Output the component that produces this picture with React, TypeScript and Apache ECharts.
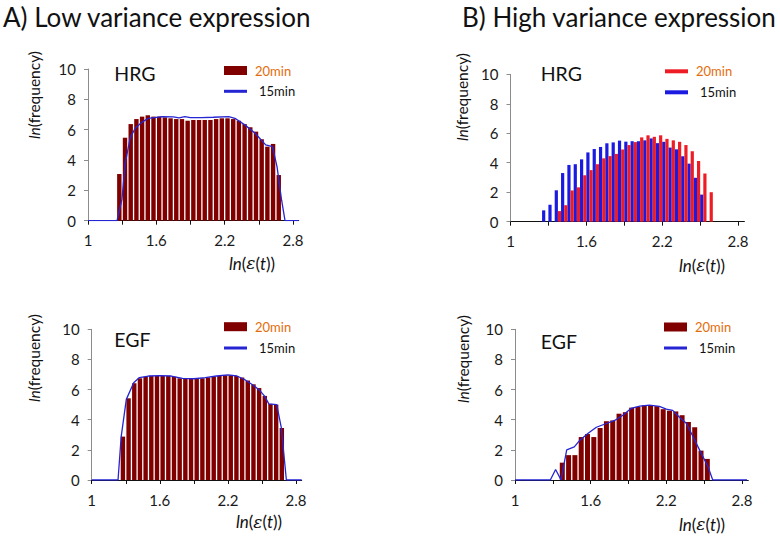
import React, { useEffect, useRef } from "react";
import * as echarts from "echarts";

const FONT = "Lato, 'Noto Sans', sans-serif";

// histogram bin centres on the ln(ε(t)) axis
const binCentres = [
  1.275, 1.325, 1.375, 1.425, 1.475, 1.525, 1.575, 1.625, 1.675, 1.725,
  1.775, 1.825, 1.875, 1.925, 1.975, 2.025, 2.075, 2.125, 2.175, 2.225,
  2.275, 2.325, 2.375, 2.425, 2.475, 2.525, 2.575, 2.625, 2.675,
];

// A) Low variance, HRG
const hrgLow20 = [
  3.08, 5.47, 6.37, 6.7, 6.86, 6.95, 6.86, 6.86, 6.81, 6.75,
  6.7, 6.7, 6.59, 6.64, 6.64, 6.64, 6.64, 6.7, 6.75, 6.75,
  6.7, 6.59, 6.37, 6.16, 5.87, 5.37, 4.88, 5.06, 3.01,
];
const hrgLow15X = [1.0, 1.255, 1.298, 1.327, 1.37, 1.415, 1.475, 1.53, 1.65, 1.75, 1.8, 1.85, 1.9, 2.0, 2.1, 2.235, 2.29, 2.38, 2.47, 2.56, 2.62, 2.66, 2.7, 2.73, 2.85];
const hrgLow15Y = [0, 0, 1.4, 3.8, 5.45, 6.1, 6.5, 6.75, 6.86, 6.85, 6.78, 6.86, 6.8, 6.8, 6.82, 6.86, 6.75, 6.3, 5.75, 5.0, 4.88, 3.55, 1.35, 0, 0];

// A) Low variance, EGF
const egfLow20 = [
  2.88, 5.42, 6.42, 6.75, 6.85, 6.9, 6.9, 6.9, 6.9, 6.85,
  6.75, 6.7, 6.7, 6.7, 6.75, 6.8, 6.85, 6.9, 6.95, 6.95,
  6.9, 6.8, 6.6, 6.35, 6.1, 5.58, 5.05, 5.0, 3.45,
];
const egfLow15X = [1.0, 1.232, 1.26, 1.305, 1.37, 1.42, 1.5, 1.6, 1.7, 1.8, 1.9, 2.0, 2.1, 2.2, 2.28, 2.35, 2.42, 2.48, 2.525, 2.56, 2.63, 2.67, 2.715, 2.85];
const egfLow15Y = [0, 0, 2.9, 5.35, 6.45, 6.8, 6.9, 6.92, 6.9, 6.75, 6.72, 6.8, 6.9, 6.97, 6.9, 6.65, 6.3, 5.95, 5.55, 5.05, 5.0, 3.5, 0, 0];

// B) High variance, HRG (15min: bins 1.275–2.525, 20min: bins 1.375–2.575)
const hrgHigh15 = [
  0.77, 1.15, 2.13, 3.3, 3.85, 3.9, 4.23, 4.7, 4.93, 5.07,
  5.32, 5.38, 5.5, 5.43, 5.46, 5.46, 5.52, 5.65, 5.33, 5.42,
  5.03, 4.91, 4.44, 3.94, 2.98, 1.84,
];
const hrgHigh20 = [
  0.72, 1.12, 2.12, 2.33, 3.15, 3.5, 3.9, 4.3, 4.45, 4.6,
  4.9, 5.2, 5.4, 5.72, 5.86, 5.76, 5.86, 5.62, 5.52, 5.42,
  5.2, 4.78, 4.12, 3.27, 2.0,
];

// B) High variance, EGF (20min: bins 1.375–2.525)
const egfHigh20 = [
  1.15, 1.65, 1.65, 2.85, 3.05, 2.85, 3.45, 3.9, 3.95, 4.4,
  4.5, 4.8, 4.85, 4.95, 4.95, 4.9, 4.7, 4.6, 4.55, 4.3,
  3.85, 3.5, 1.95, 1.4,
];
const egfHigh15X = [1.0, 1.28, 1.322, 1.365, 1.41, 1.47, 1.51, 1.58, 1.645, 1.725, 1.79, 1.855, 1.92, 1.99, 2.065, 2.145, 2.2, 2.25, 2.3, 2.36, 2.41, 2.475, 2.53, 2.568, 2.84];
const egfHigh15Y = [0, 0, 0.7, 0, 2.0, 2.2, 2.6, 3.1, 3.5, 3.75, 3.95, 4.3, 4.75, 4.9, 4.97, 4.88, 4.7, 4.62, 4.2, 3.75, 2.9, 1.8, 0.9, 0, 0];

const xTickValues = [1, 1.3, 1.6, 1.9, 2.2, 2.5, 2.8];
const xLabelValues = [1, 1.6, 2.2, 2.8];
const seriesNames = ["20min", "15min"];

const DARK_RED = "#800000";
const RED = "#ee1c24";
const BLUE = "#1a1ae0";
const LINE_BLUE = "#2525d4";
const ORANGE = "#e46c0a";

const pair = (xs: number[], ys: number[]) => xs.map((x, i) => [x, ys[i]]);

const grids = [
  { left: 88, top: 69, width: 210.7, height: 151.7 },
  { left: 510.5, top: 74.3, width: 233.9, height: 147.4 },
  { left: 91.7, top: 329.3, width: 210, height: 150.7 },
  { left: 515, top: 329.3, width: 233.3, height: 150.7 },
];

function xAxis(i: number) {
  return {
    gridIndex: i,
    type: "value",
    min: 1,
    max: 2.85,
    axisLine: { show: true, onZero: false, lineStyle: { color: "#111", width: 1 } },
    axisTick: { show: true, length: 4, customValues: xTickValues, lineStyle: { color: "#111" } },
    axisLabel: { customValues: xLabelValues, fontSize: 15, fontFamily: FONT, color: "#1a1a1a", margin: 12 },
    splitLine: { show: false },
  };
}

function yAxis(i: number) {
  return {
    gridIndex: i,
    type: "value",
    min: 0,
    max: 10,
    interval: 2,
    axisLine: { show: true, lineStyle: { color: "#8c8c8c", width: 1 } },
    axisTick: { show: true, length: 4, lineStyle: { color: "#8c8c8c" } },
    axisLabel: { fontSize: 15, fontFamily: FONT, color: "#1a1a1a", margin: 12 },
    splitLine: { show: false },
  };
}

function legend(name: string, left: number, cy: number, color: string, iconH: number, textColor: string, padLeft: number) {
  return {
    left,
    top: cy - 7.5,
    padding: 0,
    orient: "horizontal",
    itemWidth: 23,
    itemHeight: iconH,
    icon: "rect",
    selectedMode: false,
    textStyle: { fontSize: 13, fontFamily: FONT, color: textColor, padding: [0, 0, 0, padLeft] },
    data: [{ name, icon: "rect", itemStyle: { color, borderWidth: 0 }, textStyle: { color: textColor } }],
  };
}

function text(x: number, y: number, t: string, size: number, align = "left") {
  return {
    type: "text",
    x,
    y,
    silent: true,
    style: { text: t, fontSize: size, fontFamily: FONT, fill: "#111", align, verticalAlign: "middle" },
  };
}

function yName(x: number, y: number) {
  return {
    type: "text",
    x,
    y,
    rotation: Math.PI / 2,
    silent: true,
    style: {
      text: "{i|ln}{n|(frequency)}",
      align: "center",
      verticalAlign: "middle",
      fontSize: 15.5,
      fontFamily: FONT,
      fill: "#111",
      rich: {
        i: { fontSize: 15.5, fontFamily: FONT, fontStyle: "italic", fill: "#111" },
        n: { fontSize: 15.5, fontFamily: FONT, fill: "#111" },
      },
    },
  };
}

function xName(x: number, y: number) {
  return {
    type: "text",
    x,
    y,
    silent: true,
    style: {
      text: "{i|ln}{n|(}{e|ε}{n|(}{i|t}{n|))}",
      align: "center",
      verticalAlign: "middle",
      fontSize: 17,
      fontFamily: FONT,
      fill: "#111",
      rich: {
        i: { fontSize: 17, fontFamily: FONT, fontStyle: "italic", fill: "#111" },
        e: { fontSize: 17, fontFamily: "'DejaVu Serif', serif", fontStyle: "italic", fill: "#111" },
        n: { fontSize: 17, fontFamily: FONT, fill: "#111" },
      },
    },
  };
}

const lineSeries = (grid: number, xs: number[], ys: number[]) => ({
  type: "line",
  name: seriesNames[1],
  xAxisIndex: grid,
  yAxisIndex: grid,
  data: pair(xs, ys),
  symbol: "none",
  smooth: false,
  z: 4,
  lineStyle: { color: LINE_BLUE, width: 1.3 },
  itemStyle: { color: LINE_BLUE },
});

const option = {
  animation: false,
  backgroundColor: "#ffffff",
  grid: grids,
  xAxis: [0, 1, 2, 3].map(xAxis),
  yAxis: [0, 1, 2, 3].map(yAxis),
  legend: [
    legend(seriesNames[0], 224, 71.5, DARK_RED, 9, ORANGE, 3),
    legend(seriesNames[1], 224, 92.3, LINE_BLUE, 3, "#111", 7),
    legend(seriesNames[0], 665, 72.3, RED, 4, ORANGE, 3),
    legend(seriesNames[1], 665, 93.3, BLUE, 4, "#111", 7),
    legend(seriesNames[0], 224, 327.7, DARK_RED, 9, ORANGE, 3),
    legend(seriesNames[1], 224, 349, LINE_BLUE, 3, "#111", 7),
    legend(seriesNames[0], 664, 328, DARK_RED, 9, ORANGE, 3),
    legend(seriesNames[1], 664, 349, LINE_BLUE, 3, "#111", 7),
  ],
  series: [
    {
      type: "bar",
      name: seriesNames[0],
      xAxisIndex: 0,
      yAxisIndex: 0,
      data: pair(binCentres, hrgLow20),
      barWidth: 4.4,
      itemStyle: { color: DARK_RED },
    },
    lineSeries(0, hrgLow15X, hrgLow15Y),
    {
      type: "bar",
      name: seriesNames[1],
      xAxisIndex: 1,
      yAxisIndex: 1,
      data: pair(binCentres.slice(0, 26), hrgHigh15),
      barWidth: 3.2,
      barGap: "0%",
      itemStyle: { color: BLUE },
    },
    {
      type: "bar",
      name: seriesNames[0],
      xAxisIndex: 1,
      yAxisIndex: 1,
      data: pair(binCentres.slice(2, 27), hrgHigh20),
      barWidth: 3.2,
      barGap: "0%",
      itemStyle: { color: RED },
    },
    {
      type: "bar",
      name: seriesNames[0],
      xAxisIndex: 2,
      yAxisIndex: 2,
      data: pair(binCentres, egfLow20),
      barWidth: 4.4,
      itemStyle: { color: DARK_RED },
    },
    lineSeries(2, egfLow15X, egfLow15Y),
    {
      type: "bar",
      name: seriesNames[0],
      xAxisIndex: 3,
      yAxisIndex: 3,
      data: pair(binCentres.slice(2, 26), egfHigh20),
      barWidth: 5.0,
      itemStyle: { color: DARK_RED },
    },
    lineSeries(3, egfHigh15X, egfHigh15Y),
  ],
  graphic: [
    text(3, 16.5, "A) Low variance expression", 26),
    text(462, 16.5, "B) High variance expression", 26),
    text(114.3, 73, "HRG", 19.5),
    text(114.3, 339.5, "EGF", 19.5),
    text(540.7, 73, "HRG", 19.5),
    text(540.7, 341, "EGF", 19.5),
    yName(33.5, 95),
    yName(33.5, 358),
    yName(462, 97),
    yName(463, 359),
    xName(252, 263),
    xName(259, 521.5),
    xName(702, 265),
    xName(702, 524),
  ],
};

export default function App() {
  const ref = useRef<HTMLDivElement>(null);
  useEffect(() => {
    const chart = echarts.init(ref.current as HTMLDivElement, null, { renderer: "svg" });
    chart.setOption(option as any);
    return () => chart.dispose();
  }, []);
  return (
    <div
      ref={ref}
      style={{ position: "fixed", left: 0, top: 0, width: 780, height: 536, background: "#fff" }}
    />
  );
}
